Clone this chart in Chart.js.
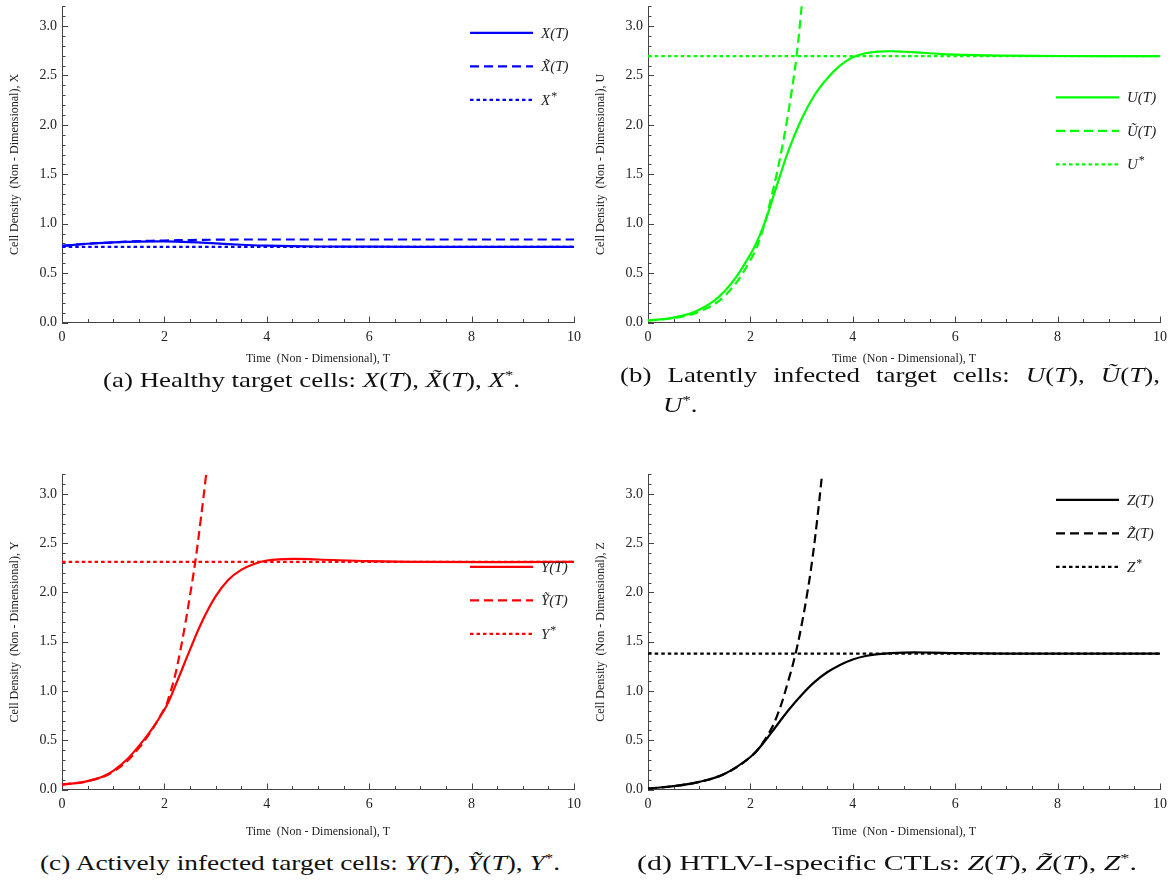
<!DOCTYPE html>
<html><head><meta charset="utf-8">
<script src="https://cdn.jsdelivr.net/npm/chart.js@4.4.0/dist/chart.umd.min.js"></script>
<style>
html,body{margin:0;padding:0;background:#fff;}
body{width:1175px;height:883px;position:relative;overflow:hidden;}
canvas{position:absolute;}
.cap{position:absolute;font-family:"Liberation Serif",serif;font-size:21px;color:#111;white-space:nowrap;line-height:24px;transform-origin:0 50%;}
.cap i{font-style:italic;}
.cap sup{font-size:13px;}
</style></head><body>
<canvas id="ca" width="587" height="372" style="left:0;top:0"></canvas>
<canvas id="cb" width="589" height="372" style="left:586px;top:0"></canvas>
<canvas id="cc" width="587" height="372" style="left:0;top:468px"></canvas>
<canvas id="cd" width="589" height="372" style="left:586px;top:468px"></canvas>
<div class="cap" id="capA" style="left:103px;top:363px;">(a) Healthy target cells: <i>X</i>(<i>T</i>), <i>X̃</i>(<i>T</i>), <i>X</i><sup>*</sup>.</div>
<div class="cap" id="capB1" style="left:620px;top:363px;">(b) Latently infected target cells: <i>U</i>(<i>T</i>), <i>Ũ</i>(<i>T</i>),</div>
<div class="cap" id="capB2" style="left:663px;top:388px;"><i>U</i><sup>*</sup>.</div>
<div class="cap" id="capC" style="left:40px;top:846px;">(c) Actively infected target cells: <i>Y</i>(<i>T</i>), <i>Ỹ</i>(<i>T</i>), <i>Y</i><sup>*</sup>.</div>
<div class="cap" id="capD" style="left:637px;top:846px;">(d) HTLV-I-specific CTLs: <i>Z</i>(<i>T</i>), <i>Z̃</i>(<i>T</i>), <i>Z</i><sup>*</sup>.</div>
<script>
// ---------- data ----------
const T_EQ = [0, 10];

// (a) healthy target cells
const T_X = [0, 0.5, 1, 1.5, 2, 2.5, 3, 3.5, 4, 5, 6, 8, 10];
const X_sol = [0.775, 0.797, 0.81, 0.818, 0.82, 0.813, 0.8, 0.787, 0.777, 0.769, 0.767, 0.766, 0.766];
const X_lin = [0.775, 0.797, 0.812, 0.823, 0.83, 0.835, 0.838, 0.84, 0.84, 0.84, 0.84, 0.84, 0.84];
const X_star = 0.766;

// (b) latently infected target cells
const T_U = [0, 0.5, 1, 1.5, 2, 2.25, 2.5, 2.75, 3, 3.25, 3.5, 3.75, 4, 4.25, 4.5, 4.75, 5, 5.5, 6, 7, 8, 10];
const U_sol = [0.02, 0.05, 0.13, 0.32, 0.69, 0.97, 1.36, 1.75, 2.06, 2.3, 2.47, 2.6, 2.685, 2.725, 2.742, 2.745, 2.74, 2.725, 2.71, 2.7, 2.697, 2.695];
const T_Ut = [0, 0.5, 1, 1.5, 2, 2.25, 2.4, 2.5, 2.6, 2.7, 2.8, 2.9, 3.0, 3.1];
const U_lin = [0.02, 0.045, 0.11, 0.27, 0.63, 0.95, 1.25, 1.47, 1.72, 2.0, 2.32, 2.69, 3.2, 3.8];
const U_star = 2.695;

// (c) actively infected target cells
const T_Y = [0, 0.5, 1, 1.5, 2, 2.25, 2.5, 2.75, 3, 3.25, 3.5, 3.75, 4, 4.5, 5, 6, 7, 10];
const Y_sol = [0.05, 0.085, 0.19, 0.44, 0.81, 1.1, 1.42, 1.72, 1.96, 2.13, 2.23, 2.29, 2.325, 2.342, 2.335, 2.318, 2.31, 2.31];
const T_Yt = [0, 0.5, 1, 1.5, 2, 2.1, 2.2, 2.3, 2.4, 2.5, 2.6, 2.7, 2.8, 2.9];
const Y_lin = [0.05, 0.085, 0.18, 0.42, 0.82, 0.96, 1.14, 1.38, 1.66, 1.97, 2.3, 2.7, 3.13, 3.6];
const Y_star = 2.31;

// (d) HTLV-I-specific CTLs
const T_Z = [0, 0.5, 1, 1.5, 2, 2.25, 2.5, 2.75, 3, 3.25, 3.5, 3.75, 4, 4.25, 4.5, 5, 5.5, 6, 7, 10];
const Z_sol = [0.01, 0.034, 0.077, 0.16, 0.33, 0.47, 0.64, 0.81, 0.96, 1.09, 1.19, 1.265, 1.32, 1.355, 1.375, 1.39, 1.39, 1.385, 1.38, 1.38];
const T_Zt = [0, 0.5, 1, 1.5, 2, 2.25, 2.5, 2.75, 2.9, 3.0, 3.1, 3.2, 3.3, 3.4, 3.5];
const Z_lin = [0.01, 0.034, 0.077, 0.16, 0.33, 0.48, 0.72, 1.12, 1.42, 1.67, 1.96, 2.3, 2.72, 3.2, 3.7];
const Z_star = 1.38;

const X_TICKS = [0, 2, 4, 6, 8, 10];
const Y_TICKS = [0, 0.5, 1, 1.5, 2, 2.5, 3];

// ---------- helpers ----------
const SERIF = '"Liberation Serif", "Times New Roman", serif';
function pts(T, V) { return T.map((t, i) => ({ x: t, y: V[i] })); }
function ds(label, T, V, color, kind) {
  return {
    label, data: pts(T, V), borderColor: color, borderWidth: 2.2,
    borderDash: kind === 'dash' ? [9, 5] : kind === 'dot' ? [3.5, 3] : [],
    pointRadius: 0, fill: false, tension: 0.4,
    clip: { left: 1, top: 0, right: 1, bottom: 2 }
  };
}

const innerTicks = {
  id: 'innerTicks',
  beforeDatasetsDraw(chart) {
    const { ctx, chartArea: a, scales: { x, y } } = chart;
    ctx.save();
    ctx.strokeStyle = '#444';
    ctx.lineWidth = 1;
    ctx.beginPath();
    for (let k = 0; k <= 20; k++) {
      const v = k * 0.5;
      const px = Math.round(x.getPixelForValue(v)) + 0.5;
      const len = (k % 4 === 0) ? 6 : 3.5;
      ctx.moveTo(px, a.bottom); ctx.lineTo(px, a.bottom - len);
    }
    for (let k = 0; k <= 32; k++) {
      const v = k * 0.1;
      const py = Math.round(y.getPixelForValue(v)) + 0.5;
      const len = (k % 5 === 0) ? 6 : 3.5;
      ctx.moveTo(a.left, py); ctx.lineTo(a.left + len, py);
    }
    ctx.stroke();
    ctx.restore();
  }
};

const insideLegend = {
  id: 'insideLegend',
  afterDatasetsDraw(chart, args, opts) {
    const { ctx, chartArea: a } = chart;
    ctx.save();
    chart.data.datasets.forEach((d, i) => {
      const yy = a.top + opts.top + i * 33.5;
      ctx.beginPath();
      ctx.strokeStyle = d.borderColor;
      ctx.lineWidth = d.borderWidth;
      ctx.setLineDash(d.borderDash);
      ctx.moveTo(a.right - 104, yy); ctx.lineTo(a.right - 41, yy);
      ctx.stroke();
      ctx.setLineDash([]);
      ctx.fillStyle = '#222';
      ctx.textBaseline = 'middle';
      ctx.textAlign = 'left';
      ctx.font = 'italic 15px ' + SERIF;
      let lbl = d.label, star = false;
      if (lbl.endsWith('*')) { star = true; lbl = lbl.slice(0, -1); }
      const tx = a.right - 33;
      ctx.fillText(lbl, tx, yy + 1);
      if (star) {
        const w = ctx.measureText(lbl).width;
        ctx.font = '12px ' + SERIF;
        ctx.fillText('*', tx + w + 1, yy - 3);
      }
    });
    ctx.restore();
  }
};

function makeChart(id, sets, yLetter, legendTop, padRight, xbox) {
  return new Chart(document.getElementById(id), {
    type: 'line',
    data: { datasets: sets },
    plugins: [innerTicks, insideLegend],
    options: {
      responsive: false, animation: false, devicePixelRatio: 1,
      layout: { padding: { top: 6.3, right: padRight, left: 0, bottom: 0 } },
      plugins: { legend: { display: false }, tooltip: { enabled: false }, insideLegend: { top: legendTop } },
      scales: {
        x: {
          type: 'linear', min: 0, max: 10,
          afterFit(s) { s.height = xbox.h; s.paddingLeft = 0; s.paddingRight = 0; },
          afterBuildTicks(s) { s.ticks = X_TICKS.map(v => ({ value: v })); },
          grid: { display: false, drawTicks: false },
          border: { display: true, color: '#444', width: 1 },
          ticks: { font: { family: SERIF, size: 14 }, color: '#222', padding: 6, maxRotation: 0 },
          title: { display: true, text: 'Time  (Non - Dimensional), T', font: { family: SERIF, size: 12 }, color: '#222', padding: { top: 0, bottom: xbox.p } }
        },
        y: {
          type: 'linear', min: 0, max: 3.2,
          afterFit(s) { s.width = 62; s.paddingTop = 0; s.paddingBottom = 0; },
          afterBuildTicks(s) { s.ticks = Y_TICKS.map(v => ({ value: v })); },
          grid: { display: false, drawTicks: false },
          border: { display: true, color: '#444', width: 1 },
          ticks: { font: { family: SERIF, size: 14 }, color: '#222', padding: 5, callback: v => Number(v).toFixed(1) },
          title: { display: true, text: 'Cell Density  (Non - Dimensional), ' + yLetter, font: { family: SERIF, size: 12 }, color: '#222', padding: { top: 8, bottom: 0 } }
        }
      }
    }
  });
}

makeChart('ca', [
  ds('X(T)', T_X, X_sol, '#0000ff', 'solid'),
  ds('X\u0303(T)', T_X, X_lin, '#0000ff', 'dash'),
  ds('X*', T_EQ, [X_star, X_star], '#0000ff', 'dot')
], 'X', 26.5, 13, { h: 49.5, p: 6 });

makeChart('cb', [
  ds('U(T)', T_U, U_sol, '#00ff00', 'solid'),
  ds('U\u0303(T)', T_Ut, U_lin, '#00ff00', 'dash'),
  ds('U*', T_EQ, [U_star, U_star], '#00ff00', 'dot')
], 'U', 91, 15, { h: 49.5, p: 6 });

makeChart('cc', [
  ds('Y(T)', T_Y, Y_sol, '#ff0000', 'solid'),
  ds('Y\u0303(T)', T_Yt, Y_lin, '#ff0000', 'dash'),
  ds('Y*', T_EQ, [Y_star, Y_star], '#ff0000', 'dot')
], 'Y', 92.5, 13, { h: 50.5, p: 1 });

makeChart('cd', [
  ds('Z(T)', T_Z, Z_sol, '#000000', 'solid'),
  ds('Z\u0303(T)', T_Zt, Z_lin, '#000000', 'dash'),
  ds('Z*', T_EQ, [Z_star, Z_star], '#000000', 'dot')
], 'Z', 25.6, 15, { h: 50.5, p: 1 });

// ---------- caption widths (match the reference's wide typeset captions) ----------
function fitCap(id, target) {
  const el = document.getElementById(id);
  const w = el.getBoundingClientRect().width;
  const s = target / w;
  el.style.transform = 'scaleX(' + s + ')';
  return s;
}
const sA = fitCap('capA', 417);
fitCap('capC', 520);
fitCap('capD', 500);
(function () {
  const el = document.getElementById('capB1');
  const w = el.getBoundingClientRect().width;
  const extra = 540 / sA - w;
  el.style.wordSpacing = (extra / 6) + 'px';
  el.style.transform = 'scaleX(' + sA + ')';
  document.getElementById('capB2').style.transform = 'scaleX(' + sA + ')';
})();
</script>
</body></html>
